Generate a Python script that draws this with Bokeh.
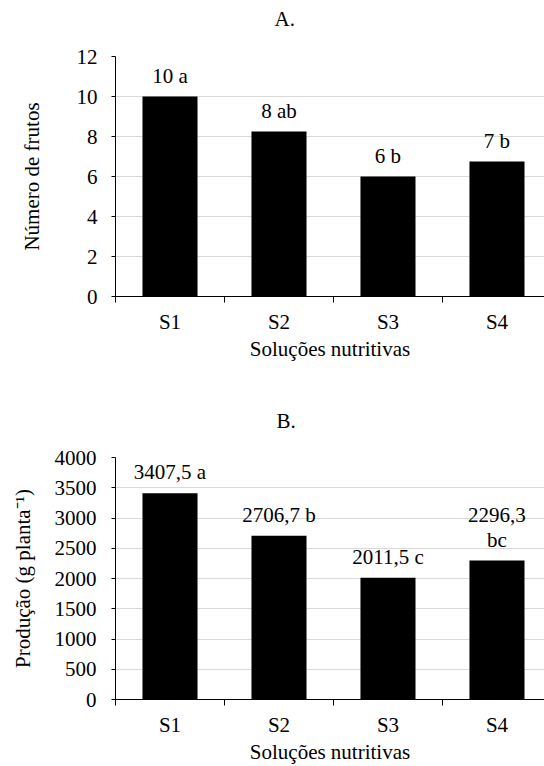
from bokeh.plotting import figure
from bokeh.models import ColumnDataSource, LabelSet, FixedTicker, Range1d
from bokeh.layouts import column
from bokeh.core.properties import value
from bokeh.embed import file_html
from bokeh.resources import INLINE

# ---- data ----
solucoes = ["S1", "S2", "S3", "S4"]
frutos = [10.0, 8.25, 6.0, 6.75]
frutos_labels = ["10 a", "8 ab", "6 b", "7 b"]
frutos_ticks = [0, 2, 4, 6, 8, 10, 12]
producao = [3407.5, 2706.7, 2011.5, 2296.3]
producao_labels = ["3407,5 a", "2706,7 b", "2011,5 c", "2296,3\nbc"]
producao_ticks = [0, 500, 1000, 1500, 2000, 2500, 3000, 3500, 4000]

FONT = "'Liberation Serif', 'Times New Roman', serif"
FS = "21px"
LINE_H = 25


def make_chart(title, title_offset, title_standoff, values, labels, yticks,
               ylabel, height, top, bottom, ylab_standoff, tick_standoff):
    xs = list(range(1, len(solucoes) + 1))
    p = figure(width=544, height=height,
               x_range=Range1d(0.5, 4.436),
               y_range=Range1d(yticks[0], yticks[-1]),
               output_backend="svg", toolbar_location=None,
               min_border_left=115, min_border_right=0,
               min_border_top=top, min_border_bottom=bottom,
               title=title + "\n")  # empty 2nd line = gap above the frame
    p.outline_line_color = None
    p.background_fill_color = "white"
    p.border_fill_color = "white"

    p.title.align = "left"
    p.title.offset = title_offset
    p.title.standoff = title_standoff
    p.title.text_font = FONT
    p.title.text_font_size = FS
    p.title.text_font_style = "normal"
    p.title.text_color = "black"
    p.title.text_line_height = 1.0

    src = ColumnDataSource(dict(x=xs, top=values))
    p.vbar(x="x", top="top", bottom=0, width=0.505, source=src,
           fill_color="black", line_color=None)

    # value labels, multi-line ones split into centred lines
    lx, ly, lt, ldy = [], [], [], []
    for x, v, t in zip(xs, values, labels):
        lines = t.split("\n")
        n = len(lines)
        for i, line in enumerate(lines):
            lx.append(x)
            ly.append(v)
            lt.append(line)
            ldy.append(14 + (n - 1 - i) * LINE_H)
    lsrc = ColumnDataSource(dict(x=lx, y=ly, text=lt, dy=ldy))
    lbl = LabelSet(x="x", y="y", text="text", source=lsrc, y_offset="dy",
                   text_align="center", text_baseline="alphabetic",
                   text_font=value(FONT), text_font_size=value(FS),
                   text_color="black")
    p.add_layout(lbl)

    # x axis
    xa = p.xaxis[0]
    xa.ticker = FixedTicker(ticks=xs, minor_ticks=[x - 0.5 for x in xs])
    xa.major_label_overrides = {x: s for x, s in zip(xs, solucoes)}
    xa.major_tick_out = 0
    xa.major_tick_in = 0
    xa.minor_tick_out = 6
    xa.minor_tick_in = 0
    xa.minor_tick_line_color = "black"
    xa.axis_line_color = "black"
    xa.major_label_standoff = 7
    xa.major_label_text_font = FONT
    xa.major_label_text_font_size = FS
    xa.major_label_text_color = "black"
    xa.major_label_text_line_height = 1.0
    xa.axis_label = "Soluções nutritivas"
    xa.axis_label_standoff = 0
    xa.axis_label_text_font = FONT
    xa.axis_label_text_font_size = FS
    xa.axis_label_text_font_style = "normal"
    xa.axis_label_text_color = "black"
    xa.axis_label_text_line_height = 1.0

    # y axis
    ya = p.yaxis[0]
    ya.ticker = FixedTicker(ticks=yticks)
    ya.major_tick_out = 4
    ya.major_tick_in = 0
    ya.minor_tick_out = 0
    ya.minor_tick_in = 0
    ya.axis_line_color = "black"
    ya.major_tick_line_color = "black"
    ya.major_label_standoff = tick_standoff
    ya.major_label_text_font = FONT
    ya.major_label_text_font_size = FS
    ya.major_label_text_color = "black"
    ya.axis_label = ylabel
    ya.axis_label_standoff = ylab_standoff
    ya.axis_label_text_font = FONT
    ya.axis_label_text_font_size = FS
    ya.axis_label_text_font_style = "normal"
    ya.axis_label_text_color = "black"
    ya.axis_label_text_line_height = 1.0

    p.xgrid.grid_line_color = None
    p.ygrid.ticker = FixedTicker(ticks=yticks)
    p.ygrid.grid_line_color = "#d9d9d9"
    p.ygrid.grid_line_width = 1
    return p


pA = make_chart("A.", 159, 3, frutos, frutos_labels, frutos_ticks,
                "Número de frutos", 380, 56, 84, 30, 14)
pB = make_chart("B.", 161, 2, producao, producao_labels, producao_ticks,
                "Produção (g planta⁻¹)", 386, 77, 67, 17, 15)

layout = column(pA, pB, spacing=0)
open("out.html", "w").write(file_html(layout, INLINE))
